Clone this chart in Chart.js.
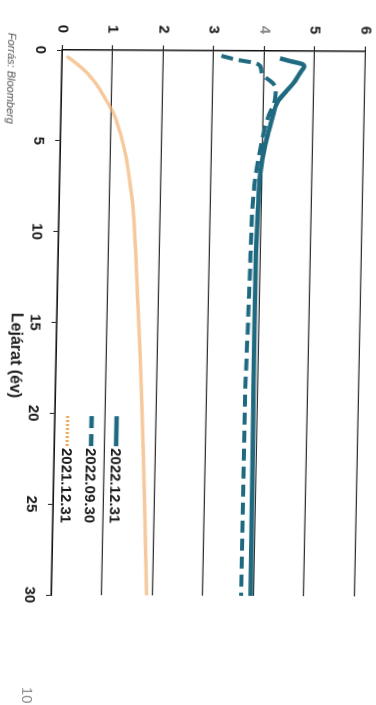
<!DOCTYPE html>
<html lang="hu">
<head>
<meta charset="utf-8">
<title>Hozamgörbe</title>
<script src="https://cdn.jsdelivr.net/npm/chart.js@4.4.1/dist/chart.umd.min.js"></script>
<style>
  html, body { margin: 0; padding: 0; background: #fff; width: 376px; height: 705px; overflow: hidden; }
  /* the page is scanned sideways: draw the chart upright, then turn it (with a slight scan skew) */
  #wrap {
    position: absolute; left: 0; top: 0; width: 705px; height: 376px;
    transform-origin: 0 0;
    transform: matrix(-0.020, 1, -1, -0.005, 376.0, 1.565);
    font-family: 'Liberation Sans', Arial, sans-serif;
  }
  #chart { position: absolute; left: 0; top: 0; }
  .note { position: absolute; white-space: nowrap; }
  #xTitle { left: 313px; top: 343px; font-size: 16px; font-weight: bold; color: #1a1a1a; line-height: 19px; }
  #source { left: 33px; top: 357px; font-size: 11px; font-style: italic; color: #555; line-height: 13px; }
  #page { left: 687px; top: 326px; font-size: 15px; color: #888; line-height: 18px; }
</style>
</head>
<body>
<div id="wrap">
  <canvas id="chart" width="705" height="376"></canvas>
  <div class="note" id="xTitle">Lejárat (év)</div>
  <div class="note" id="source">Forrás: Bloomberg</div>
  <div class="note" id="page">10</div>
</div>
<script>
// --- 1. DATA ---
const seriesLabels = ["2022.12.31", "2022.09.30", "2021.12.31"];

const maturityDec22 = [0.4, 0.55, 0.7, 0.85, 1.05, 1.3, 1.75, 2.2, 2.75, 3.7, 4.6, 5.5, 6.4, 7.3, 8.25, 10, 12, 15, 20, 25, 30];
const yieldDec22    = [4.32, 4.52, 4.75, 4.8, 4.76, 4.7, 4.6, 4.46, 4.3, 4.19, 4.11, 4.04, 3.99, 3.96, 3.95, 3.93, 3.92, 3.92, 3.93, 3.94, 3.95];

const maturitySep22 = [0.28, 0.46, 0.55, 0.64, 0.75, 1.0, 1.27, 1.38, 1.84, 2.3, 2.75, 3.7, 4.6, 5.5, 7, 8.25, 10, 12, 15, 20, 25, 30];
const yieldSep22    = [3.16, 3.42, 3.59, 3.79, 3.9, 3.95, 3.97, 4.01, 4.21, 4.25, 4.23, 4.1, 4.02, 3.96, 3.88, 3.84, 3.82, 3.81, 3.79, 3.76, 3.76, 3.76];

const maturityDec21 = [0.35, 0.8, 1.3, 1.9, 2.6, 3.7, 5.5, 8.25, 10, 13.8, 19.3, 24.8, 30];
const yieldDec21    = [0.1, 0.32, 0.52, 0.7, 0.86, 1.08, 1.28, 1.45, 1.51, 1.6, 1.72, 1.81, 1.89];

const xTicks = [0, 5, 10, 15, 20, 25, 30];
const yTicks = [0, 1, 2, 3, 4, 5, 6];

// --- 2. HELPERS ---
const toPoints = (xs, ys) => xs.map((x, i) => ({ x: x, y: ys[i] }));

const TEAL = "#1f6a80";
const ORANGE = "rgba(242, 176, 112, 0.7)";
const FONT = "'Liberation Sans', Arial, sans-serif";

Chart.defaults.font.family = FONT;
Chart.defaults.color = "#1a1a1a";

// legend drawn inside the plot (bottom-right of the upright chart)
const insideLegend = {
    id: "insideLegend",
    afterDraw(chart) {
        const ctx = chart.ctx;
        const area = chart.chartArea;
        const x0 = area.left + 366;
        const rows = [area.bottom - 62, area.bottom - 37, area.bottom - 13];
        ctx.save();
        chart.data.datasets.forEach((ds, i) => {
            const y = rows[i];
            ctx.beginPath();
            ctx.strokeStyle = i === 2 ? "rgba(240, 150, 60, 0.9)" : ds.borderColor;
            ctx.lineWidth = i === 2 ? 3 : 4.5;
            ctx.setLineDash(i === 1 ? [12, 6] : (i === 2 ? [2, 2] : []));
            ctx.moveTo(x0, y);
            ctx.lineTo(x0 + 30, y);
            ctx.stroke();
            ctx.setLineDash([]);
            ctx.fillStyle = "#1a1a1a";
            ctx.font = "bold 15px " + FONT;
            ctx.textBaseline = "middle";
            ctx.fillText(ds.label, x0 + 32, y + 1);
        });
        ctx.restore();
    }
};

// --- 3. CHART ---
const chart = new Chart(document.getElementById("chart"), {
    type: "line",
    data: {
        datasets: [
            {
                label: seriesLabels[0],
                data: toPoints(maturityDec22, yieldDec22),
                borderColor: TEAL,
                borderWidth: 4.5,
                cubicInterpolationMode: "monotone",
                pointRadius: 0
            },
            {
                label: seriesLabels[1],
                data: toPoints(maturitySep22, yieldSep22),
                borderColor: TEAL,
                borderWidth: 4,
                borderDash: [12, 6],
                cubicInterpolationMode: "monotone",
                pointRadius: 0
            },
            {
                label: seriesLabels[2],
                data: toPoints(maturityDec21, yieldDec21),
                borderColor: ORANGE,
                borderWidth: 3.5,
                tension: 0.4,
                pointRadius: 0
            }
        ]
    },
    options: {
        responsive: false,
        animation: false,
        layout: { padding: { top: 10, right: 110, left: 0, bottom: 0 } },
        plugins: {
            legend: { display: false },
            tooltip: { enabled: false }
        },
        scales: {
            x: {
                type: "linear",
                min: xTicks[0],
                max: xTicks[xTicks.length - 1],
                afterBuildTicks: s => { s.ticks = xTicks.map(v => ({ value: v })); },
                ticks: { padding: 8, maxRotation: 0, font: { size: 15, weight: "bold" }, color: "#1a1a1a" },
                grid: { drawOnChartArea: false, tickLength: 5, color: "#222" },
                border: { color: "#111", width: 1.5 },
                afterFit: s => { s.height = 63; s.paddingLeft = 0; s.paddingRight = 0; }
            },
            y: {
                min: yTicks[0],
                max: yTicks[yTicks.length - 1],
                afterBuildTicks: s => { s.ticks = yTicks.map(v => ({ value: v })); },
                ticks: {
                    padding: 12,
                    font: { size: 15, weight: "bold" },
                    color: c => (c.tick && c.tick.value === 4 ? "#8a8a8a" : "#1a1a1a")
                },
                grid: { color: "#2e2e2e", lineWidth: 1.2, tickLength: 5 },
                border: { color: "#111", width: 1.5 },
                afterFit: s => { s.width = 50; s.paddingTop = 0; s.paddingBottom = 0; }
            }
        }
    },
    plugins: [insideLegend]
});
</script>
</body>
</html>
